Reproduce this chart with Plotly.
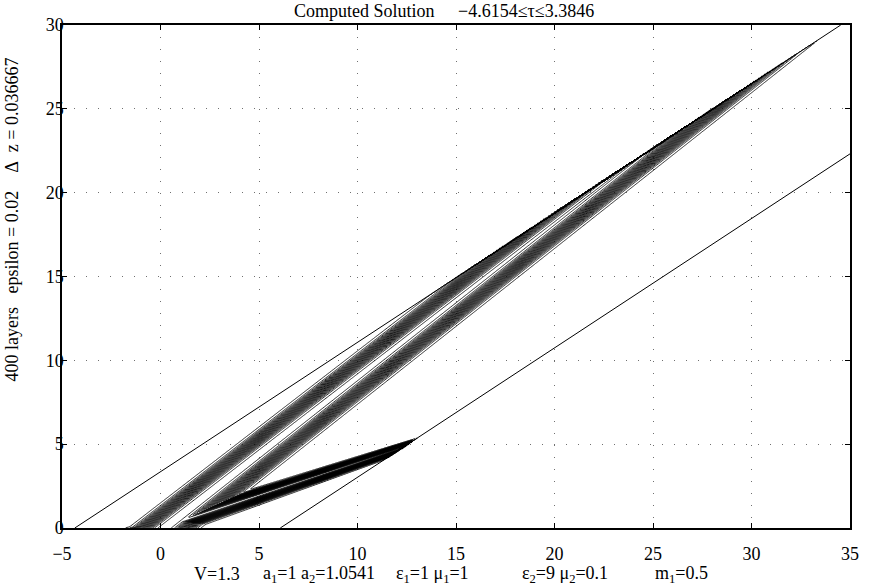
import numpy as np
import plotly.graph_objects as go

# ---- axes / ticks ----
x_range = [-5, 35]
z_range = [0, 30]
x_ticks = [-5, 0, 5, 10, 15, 20, 25, 30, 35]
z_ticks = [0, 5, 10, 15, 20, 25, 30]

# ---- window boundaries (the two single contour lines): x = offset + speed*z ----
window_offsets = [-4.35, 6.08]
window_speed = 1.296

# ---- pulses: [main bundle, reflected (lower) bundle] ----
pulse_center0 = [0.204, 0.0]      # centre x at z=0
pulse_speed = [1.0896, 2.56]      # centre drift dx/dz
pulse_half0 = [1.62, 1.50]        # half-width of the pulse at z=0
pulse_half_slope = [-0.013, -0.17]
pulse_flank0 = [1.05, 1.25]       # width of each flank at z=0
pulse_flank_slope = [0.0, -0.14]
flank_softness = 8.0

# contour levels
level_start, level_end, level_step = 0.02, 0.98, 0.04


def softplus(v, k):
    return np.logaddexp(0.0, k * v) / k


xs = np.arange(-5, 35.0001, 0.05)
zs = np.arange(0, 30.0001, 0.06)
X, Z = np.meshgrid(xs, zs)
U = np.zeros_like(X)
for c0, v, h0, dh, f0, df in zip(pulse_center0, pulse_speed, pulse_half0, pulse_half_slope,
                                  pulse_flank0, pulse_flank_slope):
    c = c0 + v * Z
    h = np.maximum(h0 + dh * Z, 0.05)
    f = np.maximum(f0 + df * Z, 0.05)
    r = (h - np.abs(X - c)) / f
    g = softplus(r, flank_softness) - softplus(r - 1.0, flank_softness)
    U = np.maximum(U, g)
tau = X - window_speed * Z
inside = (tau >= window_offsets[0]) & (tau <= window_offsets[1])
U = np.where(inside, U, 0.0).astype(np.float32)

fig = go.Figure()
fig.add_trace(go.Contour(
    x=xs, y=zs, z=U,
    contours=dict(start=level_start, end=level_end, size=level_step, coloring="lines"),
    colorscale=[[0, "black"], [1, "black"]],
    line=dict(width=0.85),
    showscale=False, hoverinfo="skip",
))

for off in window_offsets:
    zz = np.array(z_range, dtype=float)
    xx = off + window_speed * zz
    fig.add_trace(go.Scatter(x=xx, y=zz, mode="lines",
                             line=dict(color="black", width=1), hoverinfo="skip",
                             showlegend=False))

font = "Liberation Serif"
FS = 18
axis_common = dict(
    showline=True, linecolor="black", linewidth=1.5, mirror="ticks",
    ticks="inside", ticklen=5, tickcolor="black", tickwidth=1,
    showgrid=True, gridcolor="#707070", griddash="1px,11px", gridwidth=1,
    zeroline=False, tickfont=dict(family=font, size=FS, color="black"),
)
fig.update_xaxes(range=x_range, tickvals=x_ticks, ticklabelstandoff=9, **axis_common)
fig.update_yaxes(range=z_range, tickvals=z_ticks, ticklabelstandoff=-7, **axis_common)

L, T, R, B = 62, 25, 856, 528
PW, PH = R - L, B - T


def px(x):
    return (x - L) / PW


def py(y):
    return (B - y) / PH


def label(text, x, y, anchor="left", size=FS, angle=0):
    return dict(text=text, xref="paper", yref="paper", x=px(x), y=py(y),
                xanchor=anchor, yanchor="middle", showarrow=False, textangle=angle,
                font=dict(family=font, size=size, color="black"))


annotations = [
    label("Computed Solution", 294, 11),
    label("−4.6154≤τ≤3.3846", 459, 11),
    label("400 layers&nbsp;&nbsp; epsilon = 0.02&nbsp;&nbsp;&nbsp; Δ&nbsp; z = 0.036667", 12, 219,
          anchor="center", size=18, angle=-90),
    label("V=1.3", 193, 574),
    label("a<sub>1</sub>=1 a<sub>2</sub>=1.0541", 263, 574),
    label("ε<sub>1</sub>=1 μ<sub>1</sub>=1", 397, 574),
    label("ε<sub>2</sub>=9 μ<sub>2</sub>=0.1", 523, 574),
    label("m<sub>1</sub>=0.5", 658, 574),
]

fig.update_layout(
    width=871, height=585,
    margin=dict(l=L, r=871 - R, t=T, b=585 - B),
    plot_bgcolor="white", paper_bgcolor="white",
    showlegend=False,
    font=dict(family=font, size=FS, color="black"),
    annotations=annotations,
)

fig.write_html("out.html", config={"displayModeBar": False},
               post_script="document.body.style.margin='0px';document.body.style.overflow='hidden';")
